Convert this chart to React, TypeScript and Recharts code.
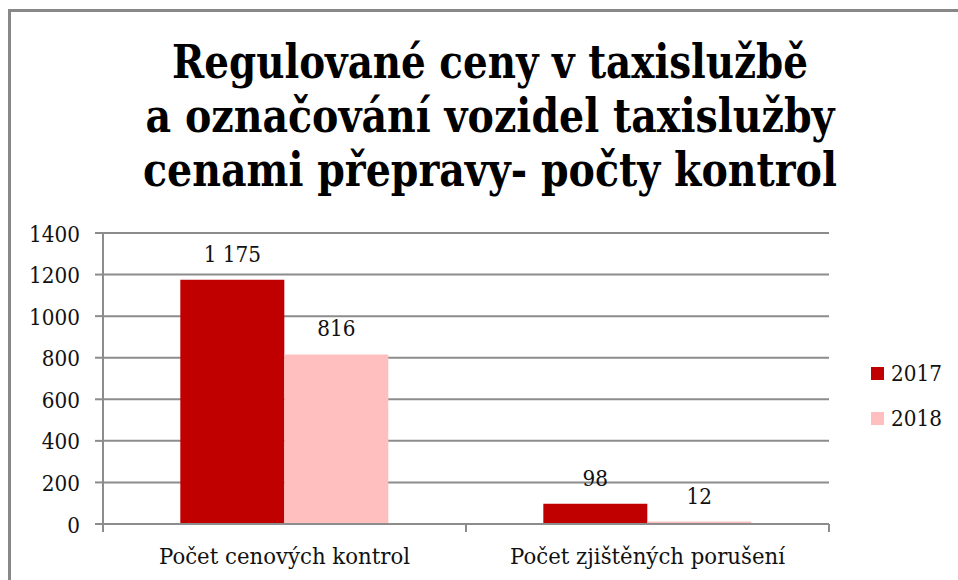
import React from 'react';
import { BarChart, Bar, XAxis, YAxis, CartesianGrid, Legend, LabelList } from 'recharts';

const categories = ['Počet cenových kontrol', 'Počet zjištěných porušení'];
const values2017 = [1175, 98];
const values2018 = [816, 12];
const seriesNames = ['2017', '2018'];
const yTicks = [0, 200, 400, 600, 800, 1000, 1200, 1400];
const titleLines = [
  'Regulované ceny v taxislužbě',
  'a označování vozidel taxislužby',
  'cenami přepravy- počty kontrol',
];

const data = categories.map((name, i) => ({ name, v2017: values2017[i], v2018: values2018[i] }));

const GRID = '#8c8c8c';
const SERIF = 'DejaVu Serif';
const FS = 23;
const NUM_SX = 0.87;
const CAT_SX = 0.925;
const TXT = '#111';

const fmt = (v: any) => String(v).replace(/\B(?=(\d{3})+(?!\d))/g, ' ');

const SText = ({ x, y, sx, anchor, children }: any) => (
  <g transform={`translate(${x},${y}) scale(${sx},1)`}>
    <text x={0} y={0} textAnchor={anchor} fontFamily={SERIF} fontSize={FS} fill={TXT}>
      {children}
    </text>
  </g>
);

const XTick = (props: any) => {
  const { x, y, payload, index } = props;
  const half = payload && typeof payload.offset === 'number' && payload.offset > 0 ? payload.offset : 181.5;
  const isLast = index === categories.length - 1;
  return (
    <g>
      <line x1={x - half} x2={x - half} y1={y - 8} y2={y} stroke={GRID} strokeWidth={2} />
      {isLast && <line x1={x + half} x2={x + half} y1={y - 8} y2={y} stroke={GRID} strokeWidth={2} />}
      <SText x={x} y={y + 32} sx={CAT_SX} anchor="middle">
        {payload.value}
      </SText>
    </g>
  );
};

const YTick = (props: any) => {
  const { x, y, payload } = props;
  return (
    <SText x={x} y={y + 8.5} sx={NUM_SX} anchor="end">
      {payload.value}
    </SText>
  );
};

const BarLabel = (props: any) => {
  const { x, y, width, value } = props;
  return (
    <SText x={x + width / 2} y={y - 18} sx={NUM_SX} anchor="middle">
      {fmt(value)}
    </SText>
  );
};

const LegendContent = (props: any) => {
  const items = props.payload || [];
  return (
    <div>
      {items.map((it: any) => (
        <div key={it.value} style={{ display: 'flex', alignItems: 'center', height: 45 }}>
          <span style={{ display: 'inline-block', width: 13, height: 13, background: it.color, marginRight: 7 }} />
          <span
            style={{
              display: 'inline-block',
              fontFamily: SERIF,
              fontSize: FS,
              color: TXT,
              lineHeight: '45px',
              transform: `scaleX(${NUM_SX})`,
              transformOrigin: 'left center',
            }}
          >
            {it.value}
          </span>
        </div>
      ))}
    </div>
  );
};

const titleY = [78, 132, 186];
const titleW = [636, 689, 694];

export default function App() {
  return (
    <div style={{ position: 'absolute', left: 0, top: 0, width: 958, height: 580, overflow: 'hidden', background: '#fff' }}>
      <div
        style={{
          position: 'absolute',
          left: 8,
          top: 9,
          width: 1000,
          height: 1000,
          borderTop: '3px solid #888',
          borderLeft: '3px solid #888',
        }}
      />
      <div style={{ position: 'absolute', left: 0, top: 0 }}>
        <BarChart
          width={958}
          height={580}
          data={data}
          margin={{ top: 233, right: 129, bottom: 0, left: 13 }}
          barCategoryGap="21.3%"
          barGap={0}
        >
          <CartesianGrid vertical={false} stroke={GRID} strokeWidth={2} />
          <XAxis
            dataKey="name"
            height={56}
            axisLine={{ stroke: GRID, strokeWidth: 2 }}
            tickLine={false}
            tickSize={8}
            tickMargin={0}
            tick={<XTick />}
            interval={0}
          />
          <YAxis
            width={90}
            domain={[0, 1400]}
            ticks={yTicks}
            interval={0}
            axisLine={{ stroke: GRID, strokeWidth: 2 }}
            tickLine={{ stroke: GRID, strokeWidth: 2 }}
            tickSize={8}
            tickMargin={15}
            tick={<YTick />}
          />
          <Legend
            layout="vertical"
            align="center"
            verticalAlign="middle"
            wrapperStyle={{ left: 871, top: 351, width: 90 }}
            content={<LegendContent />}
          />
          <Bar dataKey="v2017" name={seriesNames[0]} fill="#C00000" isAnimationActive={false}>
            <LabelList dataKey="v2017" position="top" content={<BarLabel />} />
          </Bar>
          <Bar dataKey="v2018" name={seriesNames[1]} fill="#FFBFBF" isAnimationActive={false}>
            <LabelList dataKey="v2018" position="top" content={<BarLabel />} />
          </Bar>
        </BarChart>
      </div>
      <svg width={958} height={220} style={{ position: 'absolute', left: 0, top: 0 }}>
        {titleLines.map((t, i) => (
          <text
            key={i}
            x={490}
            y={titleY[i]}
            textAnchor="middle"
            textLength={titleW[i]}
            lengthAdjust="spacingAndGlyphs"
            fontFamily="DejaVu Serif"
            fontWeight="bold"
            fontSize={46}
            fill="#000"
          >
            {t}
          </text>
        ))}
      </svg>
    </div>
  );
}
